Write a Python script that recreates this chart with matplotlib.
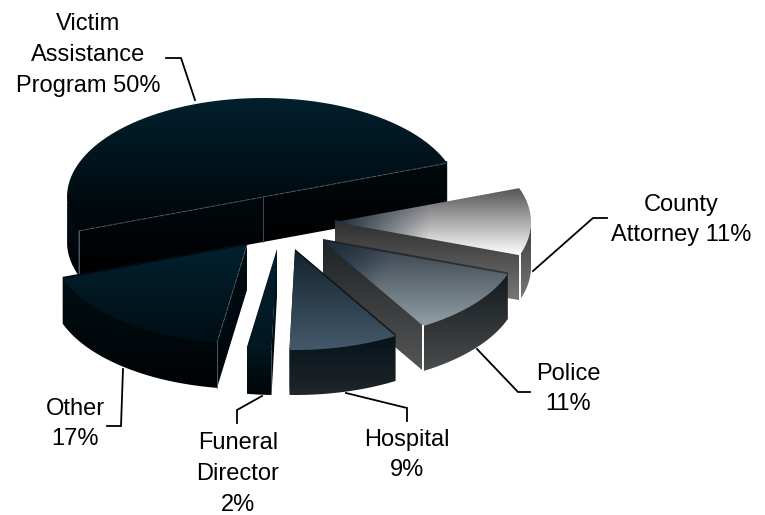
import numpy as np
import matplotlib
matplotlib.use('Agg')
import matplotlib.pyplot as plt
from matplotlib.colors import to_rgb
from matplotlib.patches import Polygon

plt.rcParams['font.family'] = ['Liberation Sans', 'DejaVu Sans']

labels = ['Victim\nAssistance\nProgram 50%', 'County\nAttorney 11%', 'Police\n11%',
          'Hospital\n9%', 'Funeral\nDirector\n2%', 'Other\n17%']
shares = [50, 11, 11, 9, 2, 17]

# pie shape, in pixels of the picture
RX, RY, DEPTH = 196, 99, 45
START = 200  # the big slice starts here and the rest follow on clockwise
centers = [(263, 197), (335, 222), (323, 241), (295, 251), (277, 251), (247, 245)]

label_pos = [(88, 55), (681, 220), (568, 389), (407, 455), (238, 474), (75, 424)]
leaders = [
    [(195, 100), (181, 58), (166, 58)],
    [(533, 271), (593, 218), (607, 218)],
    [(477, 349), (518, 392), (530, 392)],
    [(346, 393), (407, 408), (407, 421)],
    [(262, 396), (237, 410), (237, 423)],
    [(123, 369), (121, 426), (107, 426)],
]

# top: y-gradient start, end, colour near the tip, fade length
tops = [
    ('#02202e', '#000508', None, 0),
    ('#565658', '#ffffff', '#1a2a3a', 95),
    ('#343f49', '#939fa6', '#1a2b3a', 70),
    ('#14242f', '#44596a', None, 0),
    ('#02202e', '#011722', None, 0),
    ('#02212f', '#000e15', None, 0),
]
# cut faces and rim: top colour, bottom colour
cuts = [('#00090d', '#000000'), ('#2e2e2e', '#777777'), ('#1e2225', '#565656'),
        ('#061014', '#1c2022'), ('#021a24', '#000508'), ('#000f16', '#000509')]
rims = [('#001018', '#000205'), ('#3c3c3c', '#777777'), ('#12191e', '#4a4c4d'),
        ('#05131a', '#20262a'), ('#011720', '#000508'), ('#010f12', '#000205')]
edge_cols = ['#5c666b', '#ffffff', '#ffffff', None, None, '#5c666b']


def shade(ax, poly, c0, c1, z, tip=None, tip_col=None, fade=0):
    x0, y0 = poly.min(axis=0)
    x1, y1 = poly.max(axis=0)
    xs = np.arange(np.floor(x0), np.ceil(x1) + 1)
    ys = np.arange(np.floor(y0), np.ceil(y1) + 1)
    gx, gy = np.meshgrid(xs, ys)
    f = ((gy - y0) / max(y1 - y0, 1)).clip(0, 1)[..., None]
    img = np.array(to_rgb(c0)) * (1 - f) + np.array(to_rgb(c1)) * f
    if tip_col is not None:
        d = (np.hypot(gx - tip[0], gy - tip[1]) / fade).clip(0, 1)[..., None]
        img = np.array(to_rgb(tip_col)) * (1 - d) + img * d
    im = ax.imshow(img, extent=(xs[0], xs[-1], ys[-1], ys[0]), zorder=z,
                   interpolation='bilinear', aspect='auto')
    clip = Polygon(poly, closed=True, transform=ax.transData)
    im.set_clip_path(clip)


def rim_pts(c, t0, t1):
    t = np.radians(np.linspace(t0, t1, 80))
    return np.column_stack([c[0] + RX * np.cos(t), c[1] - RY * np.sin(t)])


fig = plt.figure(figsize=(7.65, 5.15), dpi=100)
ax = fig.add_axes([0, 0, 1, 1])

down = np.array([0, DEPTH])
up = np.array([0, 2])  # walls start a little under the top so no white gap shows
z = 2
angle = START
for i, share in enumerate(shares):
    c = np.array(centers[i], dtype=float)
    t0 = angle
    t1 = angle - share * 3.6
    angle = t1
    rim = rim_pts(c, t0, t1)

    # cut faces first, the rim wall goes over them
    for end in (rim[0], rim[-1]):
        if end[1] > c[1] or i == 0:
            face = np.array([c - up, end - up, end + down, c + down])
            shade(ax, face, cuts[i][0], cuts[i][1], z)
            z += 1

    # only the lower half of the rim faces the viewer
    front = rim[rim[:, 1] >= c[1] - 0.5]
    if i == 0:
        front = rim[(rim[:, 0] < c[0]) & (rim[:, 1] >= c[1] - 0.5)]
    if i == 1:
        front = rim[rim[:, 0] > rim[-1, 0] - 0.5]
        front = front[front[:, 1] >= c[1]]
    if len(front) > 1:
        wall = np.vstack([front - up, (front + down)[::-1]])
        shade(ax, wall, rims[i][0], rims[i][1], z)
        z += 1

    top = np.vstack([c, rim])
    shade(ax, top, tops[i][0], tops[i][1], z, tip=c, tip_col=tops[i][2], fade=tops[i][3])
    z += 1

    if edge_cols[i] is not None:
        lw = 0.6 if i in (0, 5) else 1.4
        corner = rim[-1] if i in (1, 2) else rim[0]
        ax.plot([corner[0], corner[0]], [corner[1], corner[1] + DEPTH],
                color=edge_cols[i], lw=lw, zorder=z)
        if i == 0:
            ax.plot([c[0], c[0]], [c[1], c[1] + DEPTH], color=edge_cols[i], lw=0.5, zorder=z)
            ax.plot([rim[0, 0], rim[-1, 0]], [rim[0, 1], rim[-1, 1]], color=edge_cols[i],
                    lw=0.6, ls=(0, (6, 1)), zorder=z)
        if i == 5:
            ax.plot([c[0], rim[0, 0]], [c[1], rim[0, 1]], color=edge_cols[i], lw=0.6,
                    ls=(0, (6, 1)), zorder=z)
        z += 1

for pts in leaders:
    xy = np.array(pts)
    ax.plot(xy[:, 0], xy[:, 1], color='black', lw=1.3, zorder=z, solid_joinstyle='miter')

for name, (x, y) in zip(labels, label_pos):
    ax.text(x, y, name, ha='center', va='center', fontsize=17, linespacing=1.52,
            color='black', zorder=z)

ax.set_xlim(0, 765)
ax.set_ylim(515, 0)
ax.axis('off')
fig.savefig('out.png', dpi=100, facecolor='white')
